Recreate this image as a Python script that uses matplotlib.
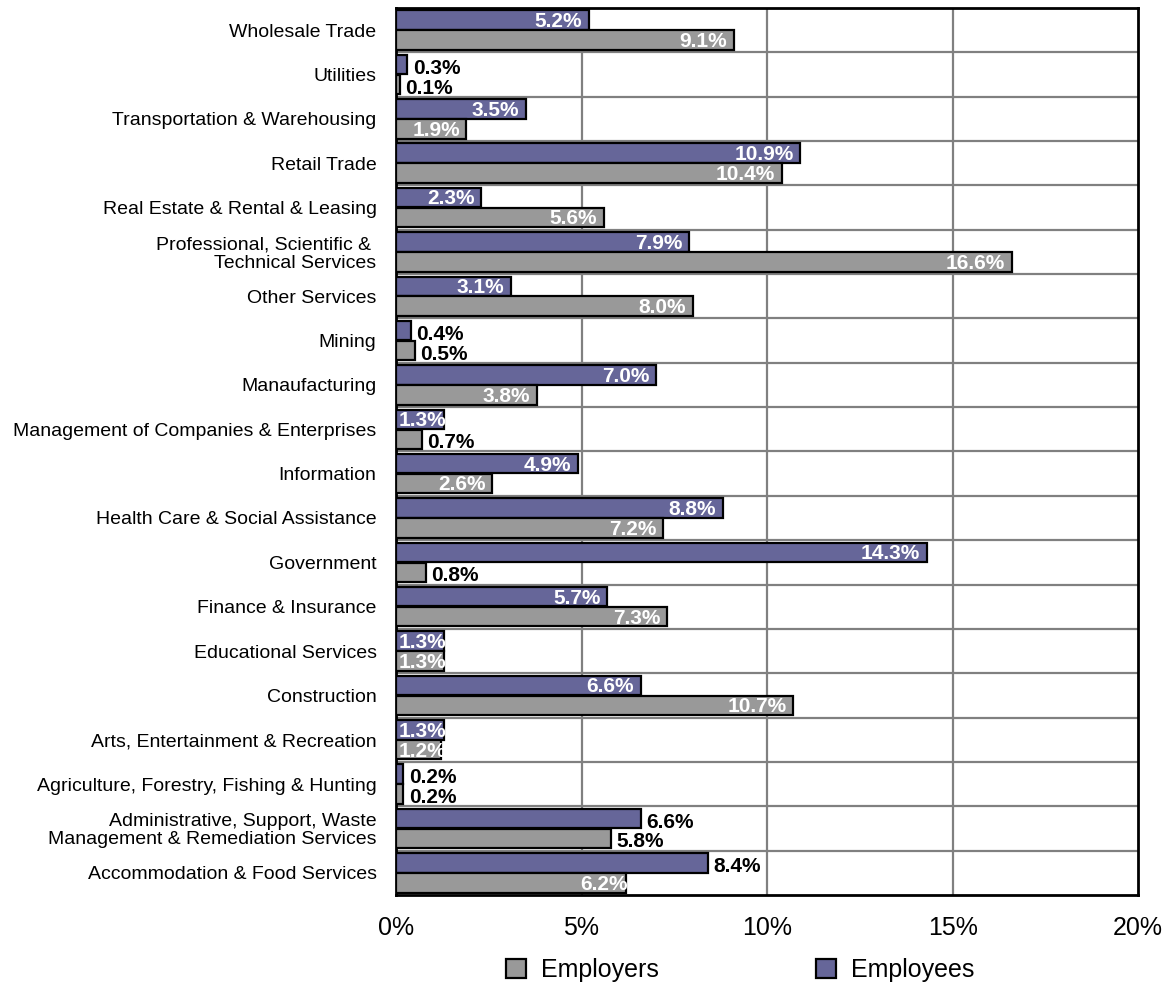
import matplotlib
matplotlib.use('Agg')
from matplotlib import pyplot as plt
from matplotlib.patches import Patch

categories = [
    'Wholesale Trade',
    'Utilities',
    'Transportation & Warehousing',
    'Retail Trade',
    'Real Estate & Rental & Leasing',
    'Professional, Scientific & \nTechnical Services',
    'Other Services',
    'Mining',
    'Manaufacturing',
    'Management of Companies & Enterprises',
    'Information',
    'Health Care & Social Assistance',
    'Government',
    'Finance & Insurance',
    'Educational Services',
    'Construction',
    'Arts, Entertainment & Recreation',
    'Agriculture, Forestry, Fishing & Hunting',
    'Administrative, Support, Waste\nManagement & Remediation Services',
    'Accommodation & Food Services',
]
employees = [5.2, 0.3, 3.5, 10.9, 2.3, 7.9, 3.1, 0.4, 7.0, 1.3,
             4.9, 8.8, 14.3, 5.7, 1.3, 6.6, 1.3, 0.2, 6.6, 8.4]
employers = [9.1, 0.1, 1.9, 10.4, 5.6, 16.6, 8.0, 0.5, 3.8, 0.7,
             2.6, 7.2, 0.8, 7.3, 1.3, 10.7, 1.2, 0.2, 5.8, 6.2]
x_ticks = [0, 5, 10, 15, 20]

# how each value label sits: 'in' = white inside, 'out' = black outside, 'clip' = white cut by bar
employees_mode = ['in', 'out', 'in', 'in', 'in', 'in', 'in', 'out', 'in', 'clip',
                  'in', 'in', 'in', 'in', 'clip', 'in', 'clip', 'out', 'out', 'out']
employers_mode = ['in', 'out', 'in', 'in', 'in', 'in', 'in', 'out', 'in', 'out',
                  'in', 'in', 'out', 'in', 'clip', 'in', 'clip', 'out', 'out', 'clipr']

plt.rcParams['font.family'] = ['Liberation Sans', 'DejaVu Sans']

purple = '#666699'
grey = '#999999'

fig = plt.figure(figsize=(11.66, 9.85), dpi=100)
ax = fig.add_axes([0.3396, 0.0914, 0.6365, 0.9005])

n = len(categories)
pos = list(range(n))
h = 0.44
off = 0.225

bars_emp = ax.barh([p - off for p in pos], employees, height=h, color=purple,
                   edgecolor='black', linewidth=1.6, zorder=3)
bars_er = ax.barh([p + off for p in pos], employers, height=h, color=grey,
                  edgecolor='black', linewidth=1.6, zorder=3)


def label_bars(bars, values, modes):
    for bar, v, m in zip(bars, values, modes):
        y = bar.get_y() + bar.get_height() / 2 + 0.03
        txt = f'{v:.1f}%'
        kw = dict(va='center', fontweight='bold', fontsize=15, zorder=4)
        if m == 'in':
            ax.text(v - 0.18, y, txt, ha='right', color='white', **kw)
        elif m == 'clip':
            t = ax.text(0.08, y, txt, ha='left', color='white', **kw)
            t.set_clip_path(bar)
        elif m == 'clipr':
            t = ax.text(v + 0.05, y, txt, ha='right', color='white', **kw)
            t.set_clip_path(bar)
        else:
            ax.text(v + 0.15, y + 0.05, txt, ha='left', color='black', **kw)


label_bars(bars_emp, employees, employees_mode)
label_bars(bars_er, employers, employers_mode)

ax.set_xlim(0, 20)
ax.set_ylim(n - 0.5, -0.5)
ax.set_xticks(x_ticks)
ax.set_xticklabels([f'{t}%' for t in x_ticks], fontsize=18)
ax.set_yticks(pos)
ax.set_yticklabels(categories, fontsize=14, linespacing=1.05)
ax.tick_params(axis='both', length=0)
ax.tick_params(axis='x', pad=15)
ax.tick_params(axis='y', pad=14)

for x in x_ticks[1:-1]:
    ax.axvline(x, color='#808080', linewidth=1.6, zorder=1)
for p in pos[:-1]:
    ax.axhline(p + 0.5, color='#808080', linewidth=1.6, zorder=1)

for s in ax.spines.values():
    s.set_linewidth(2)
    s.set_color('black')

handles = [Patch(facecolor=grey, edgecolor='black', linewidth=1.6, label='Employers'),
           Patch(facecolor=purple, edgecolor='black', linewidth=1.6, label='Employees')]
fig.legend(handles=handles, loc='center', bbox_to_anchor=(0.635, 0.015), ncol=2,
           frameon=False, prop={'size': 18}, handlelength=0.8,
           handleheight=0.8, columnspacing=6.3, handletextpad=0.6)

fig.savefig('out.png', dpi=100)
